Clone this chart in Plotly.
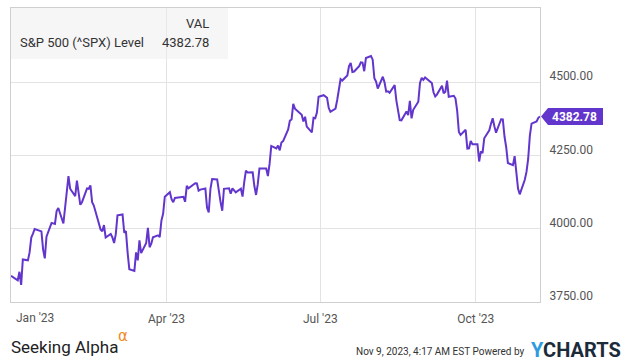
import plotly.graph_objects as go

# ---------------- data ----------------
dates = [
    "2022-12-30",
    "2023-01-03", "2023-01-04", "2023-01-05", "2023-01-06", "2023-01-09", "2023-01-10", "2023-01-11",
    "2023-01-12", "2023-01-13", "2023-01-17", "2023-01-18", "2023-01-19", "2023-01-20", "2023-01-23",
    "2023-01-24", "2023-01-25", "2023-01-26", "2023-01-27", "2023-01-30", "2023-01-31",
    "2023-02-01", "2023-02-02", "2023-02-03", "2023-02-06", "2023-02-07", "2023-02-08", "2023-02-09",
    "2023-02-10", "2023-02-13", "2023-02-14", "2023-02-15", "2023-02-16", "2023-02-17", "2023-02-21",
    "2023-02-22", "2023-02-23", "2023-02-24", "2023-02-27", "2023-02-28",
    "2023-03-01", "2023-03-02", "2023-03-03", "2023-03-06", "2023-03-07", "2023-03-08", "2023-03-09",
    "2023-03-10", "2023-03-13", "2023-03-14", "2023-03-15", "2023-03-16", "2023-03-17", "2023-03-20",
    "2023-03-21", "2023-03-22", "2023-03-23", "2023-03-24", "2023-03-27", "2023-03-28", "2023-03-29",
    "2023-03-30", "2023-03-31",
    "2023-04-03", "2023-04-04", "2023-04-05", "2023-04-06", "2023-04-10", "2023-04-11", "2023-04-12",
    "2023-04-13", "2023-04-14", "2023-04-17", "2023-04-18", "2023-04-19", "2023-04-20", "2023-04-21",
    "2023-04-24", "2023-04-25", "2023-04-26", "2023-04-27", "2023-04-28",
    "2023-05-01", "2023-05-02", "2023-05-03", "2023-05-04", "2023-05-05", "2023-05-08", "2023-05-09",
    "2023-05-10", "2023-05-11", "2023-05-12", "2023-05-15", "2023-05-16", "2023-05-17", "2023-05-18",
    "2023-05-19", "2023-05-22", "2023-05-23", "2023-05-24", "2023-05-25", "2023-05-26", "2023-05-30",
    "2023-05-31",
    "2023-06-01", "2023-06-02", "2023-06-05", "2023-06-06", "2023-06-07", "2023-06-08", "2023-06-09",
    "2023-06-12", "2023-06-13", "2023-06-14", "2023-06-15", "2023-06-16", "2023-06-20", "2023-06-21",
    "2023-06-22", "2023-06-23", "2023-06-26", "2023-06-27", "2023-06-28", "2023-06-29", "2023-06-30",
    "2023-07-03", "2023-07-05", "2023-07-06", "2023-07-07", "2023-07-10", "2023-07-11", "2023-07-12",
    "2023-07-13", "2023-07-14", "2023-07-17", "2023-07-18", "2023-07-19", "2023-07-20", "2023-07-21",
    "2023-07-24", "2023-07-25", "2023-07-26", "2023-07-27", "2023-07-28", "2023-07-31",
    "2023-08-01", "2023-08-02", "2023-08-03", "2023-08-04", "2023-08-07", "2023-08-08", "2023-08-09",
    "2023-08-10", "2023-08-11", "2023-08-14", "2023-08-15", "2023-08-16", "2023-08-17", "2023-08-18",
    "2023-08-21", "2023-08-22", "2023-08-23", "2023-08-24", "2023-08-25", "2023-08-28", "2023-08-29",
    "2023-08-30", "2023-08-31",
    "2023-09-01", "2023-09-05", "2023-09-06", "2023-09-07", "2023-09-08", "2023-09-11", "2023-09-12",
    "2023-09-13", "2023-09-14", "2023-09-15", "2023-09-18", "2023-09-19", "2023-09-20", "2023-09-21",
    "2023-09-22", "2023-09-25", "2023-09-26", "2023-09-27", "2023-09-28", "2023-09-29",
    "2023-10-02", "2023-10-03", "2023-10-04", "2023-10-05", "2023-10-06", "2023-10-09", "2023-10-10",
    "2023-10-11", "2023-10-12", "2023-10-13", "2023-10-16", "2023-10-17", "2023-10-18", "2023-10-19",
    "2023-10-20", "2023-10-23", "2023-10-24", "2023-10-25", "2023-10-26", "2023-10-27", "2023-10-30",
    "2023-10-31",
    "2023-11-01", "2023-11-02", "2023-11-03", "2023-11-06", "2023-11-07", "2023-11-08",
]

spx_level = [
    3839.50,
    3824.14, 3852.97, 3808.10, 3895.08, 3892.09, 3919.25, 3969.61, 3983.17, 3999.09, 3990.97,
    3928.86, 3898.85, 3972.61, 4019.81, 4016.95, 4016.22, 4060.43, 4070.56, 4017.77, 4076.60,
    4119.21, 4179.76, 4136.48, 4111.08, 4164.00, 4117.86, 4081.50, 4090.46, 4137.29, 4136.13,
    4147.60, 4090.41, 4079.09, 3997.34, 3991.05, 4012.32, 3970.04, 3982.24, 3970.15,
    3951.39, 3981.35, 4045.64, 4048.42, 3986.37, 3992.01, 3918.32, 3861.59, 3855.76, 3919.29,
    3891.93, 3960.28, 3916.64, 3951.57, 4002.87, 3936.97, 3948.72, 3970.99, 3977.53, 3971.27,
    4027.81, 4050.83, 4109.31,
    4124.51, 4100.60, 4090.38, 4105.02, 4109.11, 4108.94, 4091.95, 4146.22, 4137.64, 4151.32,
    4154.87, 4154.52, 4129.79, 4133.52, 4137.04, 4071.63, 4055.99, 4135.35, 4169.48,
    4167.87, 4119.58, 4090.75, 4061.22, 4136.25, 4138.12, 4119.17, 4137.64, 4130.62, 4124.08,
    4136.28, 4109.90, 4158.77, 4198.05, 4191.98, 4192.63, 4145.58, 4115.24, 4151.28, 4205.45,
    4205.52, 4179.83,
    4221.02, 4282.37, 4273.79, 4283.85, 4267.52, 4293.93, 4298.86, 4338.93, 4369.01, 4372.59,
    4425.84, 4409.59, 4388.71, 4365.69, 4381.89, 4348.33, 4328.82, 4378.41, 4376.86, 4396.44,
    4450.38,
    4455.59, 4446.82, 4411.59, 4398.95, 4409.53, 4439.26, 4472.16, 4510.04, 4505.42, 4522.79,
    4554.98, 4565.72, 4534.87, 4536.34, 4554.64, 4567.46, 4566.75, 4537.41, 4582.23, 4588.96,
    4576.73, 4513.39, 4501.89, 4478.03, 4518.44, 4499.38, 4467.71, 4468.83, 4464.05, 4489.72,
    4437.86, 4404.33, 4370.36, 4369.71, 4399.77, 4387.55, 4436.01, 4376.31, 4405.71, 4433.31,
    4497.63, 4514.87, 4507.66,
    4515.77, 4496.83, 4465.48, 4451.14, 4457.49, 4487.46, 4461.90, 4467.44, 4505.10, 4450.32,
    4453.53, 4443.95, 4402.20, 4330.00, 4320.06, 4337.44, 4273.53, 4274.51, 4299.70, 4288.05,
    4288.39, 4229.45, 4263.75, 4258.19, 4308.50, 4335.66, 4358.24, 4376.95, 4349.61, 4327.78,
    4373.63, 4373.20, 4314.60, 4278.00, 4224.16, 4217.04, 4247.68, 4186.77, 4137.23, 4117.37,
    4166.82, 4193.80,
    4237.86, 4317.78, 4358.34, 4365.98, 4378.38, 4382.78,
]

x_tick_dates = ["2023-04-01", "2023-07-01", "2023-10-01"]
x_tick_labels = ["Apr '23", "Jul '23", "Oct '23"]
first_label_date = "2023-01-01"
first_label = "Jan '23"

y_tick_vals = [3750, 4000, 4250, 4500]
y_tick_labels = ["3750.00", "4000.00", "4250.00", "4500.00"]

series_name = "S&P 500 (^SPX) Level"
stamp = "Nov 9, 2023, 4:17 AM EST Powered by"

# ---------------- styling / geometry ----------------
W, H = 635, 364
L, R, T, B = 11, 540, 8, 302
Y_MIN, Y_MAX = 3750, 4753
PURPLE = "#6236CC"
FONT = "Roboto"


def px(x):
    return (x - L) / (R - L)


def py(y):
    return (B - y) / (B - T)


units_per_px = (Y_MAX - Y_MIN) / (B - T)
last_val = spx_level[-1]

fig = go.Figure()
fig.add_trace(go.Scatter(
    x=dates, y=spx_level, mode="lines",
    line=dict(color=PURPLE, width=2),
    hoverinfo="skip", showlegend=False,
))

annotations = []
shapes = []

# legend box (top-left)
shapes.append(dict(type="rect", xref="paper", yref="paper",
                   x0=0, x1=px(228), y0=py(59), y1=1,
                   fillcolor="rgba(238,238,238,0.55)", line=dict(width=0), layer="above"))
annotations += [
    dict(text="VAL", xref="paper", yref="paper", x=px(211), y=py(24),
         xanchor="right", yanchor="middle", showarrow=False,
         font=dict(family=FONT, size=13, color="#333")),
    dict(text=series_name, xref="paper", yref="paper", x=px(18), y=py(42),
         xanchor="left", yanchor="middle", showarrow=False,
         font=dict(family=FONT, size=13, color="#333")),
    dict(text=f"{last_val:.2f}", xref="paper", yref="paper", x=px(211), y=py(42),
         xanchor="right", yanchor="middle", showarrow=False,
         font=dict(family=FONT, size=13, color="#333")),
]

# last value tag on the right axis
hh = 8.5 * units_per_px
x_tip, x_body, x_end = px(541), px(548), px(603)
shapes.append(dict(
    type="path", xref="paper", yref="y",
    path=(f"M {x_tip},{last_val} L {x_body},{last_val + hh} L {x_end},{last_val + hh} "
          f"L {x_end},{last_val - hh} L {x_body},{last_val - hh} Z"),
    fillcolor=PURPLE, line=dict(width=0), layer="above"))
annotations.append(dict(
    text=f"<b>{last_val:.2f}</b>", xref="paper", yref="y", x=(x_body + x_end) / 2 - 0.002, y=last_val,
    xanchor="center", yanchor="middle", showarrow=False,
    font=dict(family=FONT, size=12, color="white")))

# first x label (Jan) left aligned
annotations.append(dict(
    text=first_label, xref="x", yref="paper", x=first_label_date, y=py(318),
    xanchor="left", yanchor="middle", showarrow=False,
    font=dict(family=FONT, size=12, color="#555")))

# footer
annotations += [
    dict(text="Seeking Alpha", xref="paper", yref="paper", x=px(9), y=py(347),
         xanchor="left", yanchor="middle", showarrow=False,
         font=dict(family="Roboto", size=17, color="#222")),
    dict(text="α", xref="paper", yref="paper", x=px(116), y=py(336),
         xanchor="left", yanchor="middle", showarrow=False,
         font=dict(family="DejaVu Sans", size=15, color="#F08A24")),
    dict(text=stamp, xref="paper", yref="paper", x=px(527), y=py(351),
         xanchor="right", yanchor="middle", showarrow=False,
         font=dict(family="Roboto", size=10, color="#333")),
    dict(text="<b><span style='color:#2E9BE0'>Y</span>CHARTS</b>", xref="paper", yref="paper",
         x=px(529), y=py(350), xanchor="left", yanchor="middle", showarrow=False,
         font=dict(family="Roboto", size=20, color="#1C2B3A")),
]

fig.update_layout(
    width=W, height=H,
    margin=dict(l=L, r=W - R, t=T, b=H - B),
    paper_bgcolor="white", plot_bgcolor="white",
    showlegend=False,
    shapes=shapes, annotations=annotations,
    xaxis=dict(
        range=[dates[0], dates[-1]],
        tickvals=x_tick_dates, ticktext=x_tick_labels,
        showgrid=True, gridcolor="#E3E3E3", gridwidth=1,
        showline=True, linecolor="#CFCFCF", linewidth=1, mirror=True,
        ticks="", zeroline=False,
        tickfont=dict(family=FONT, size=12, color="#555"),
        ticklabelstandoff=6,
    ),
    yaxis=dict(
        range=[Y_MIN, Y_MAX], side="right",
        tickvals=y_tick_vals, ticktext=y_tick_labels,
        showgrid=True, gridcolor="#E3E3E3", gridwidth=1,
        showline=True, linecolor="#CFCFCF", linewidth=1, mirror=True,
        ticks="", zeroline=False,
        tickfont=dict(family=FONT, size=12, color="#555"),
        ticklabelshift=-6, ticklabelstandoff=6,
    ),
)

fig.write_html("out.html", config={"displayModeBar": False},
               post_script="document.body.style.margin='0px';")
